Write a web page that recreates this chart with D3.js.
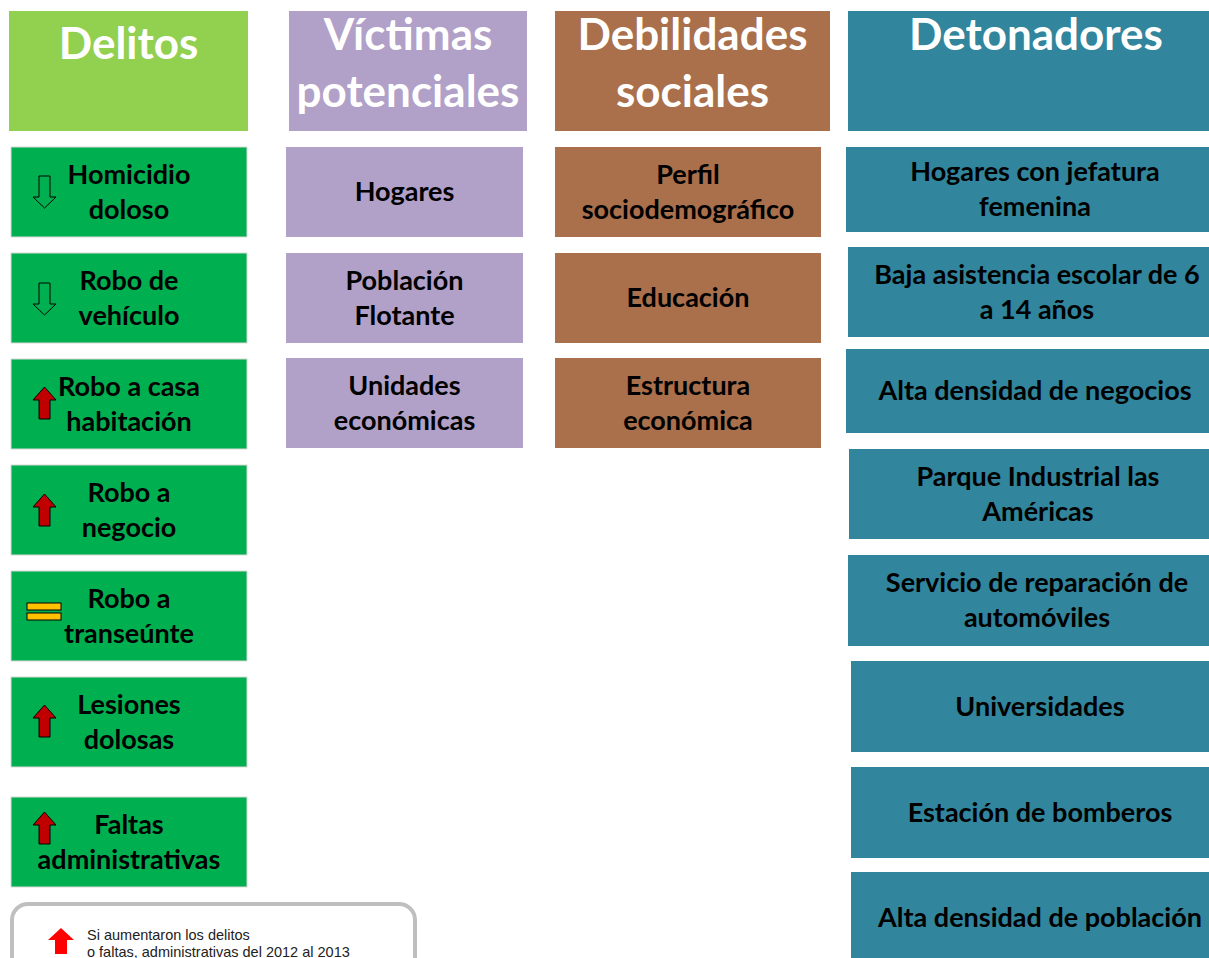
<!DOCTYPE html>
<html><head><meta charset="utf-8">
<script src="https://cdn.jsdelivr.net/npm/d3@7"></script>
<style>body{margin:0;background:#fff;overflow:hidden}svg{display:block}</style>
</head><body>
<script>
// ---- data ----
const headers = [["Delitos"], ["Víctimas", "potenciales"], ["Debilidades", "sociales"], ["Detonadores"]];
const delitos = [["Homicidio", "doloso"], ["Robo de", "vehículo"], ["Robo a casa", "habitación"], ["Robo a", "negocio"], ["Robo a", "transeúnte"], ["Lesiones", "dolosas"], ["Faltas", "administrativas"]];
const tendencias = ["down", "down", "up", "up", "equal", "up", "up"];
const victimas = [["Hogares"], ["Población", "Flotante"], ["Unidades", "económicas"]];
const debilidades = [["Perfil", "sociodemográfico"], ["Educación"], ["Estructura", "económica"]];
const detonadores = [["Hogares con jefatura", "femenina"], ["Baja asistencia escolar de 6", "a 14 años"], ["Alta densidad de negocios"], ["Parque Industrial las", "Américas"], ["Servicio de reparación de", "automóviles"], ["Universidades"], ["Estación de bomberos"], ["Alta densidad de población"]];
const leyenda = ["Si aumentaron los delitos", "o faltas, administrativas del 2012 al 2013"];

// ---- layout ----
const W = 1209, H = 958;
const FONT = "Lato, 'Open Sans', sans-serif";
const svg = d3.select("body").append("svg").attr("width", W).attr("height", H);

const headerColors = ["#92D050", "#B1A0C7", "#AA6F4B", "#31859C"];
const headerBoxes = [{x:9,w:239},{x:289,w:238},{x:555,w:275},{x:848,w:376}];
const headerBaselines = [[59],[50,107],[50,107],[50]];

const hg = svg.append("g");
headers.forEach((lines, i) => {
  const b = headerBoxes[i];
  hg.append("rect").attr("x", b.x).attr("y", 11).attr("width", b.w).attr("height", 120).attr("fill", headerColors[i]);
  lines.forEach((t, j) => {
    hg.append("text").attr("x", b.x + b.w/2).attr("y", headerBaselines[i][j])
      .attr("text-anchor","middle").attr("font-family", FONT).attr("font-weight","bold")
      .attr("font-size", 44).attr("fill","#fff").text(t);
  });
});

function boxes(data, tops, xs, ws, hs, color, stroke) {
  const g = svg.append("g");
  const sel = g.selectAll("g").data(data).join("g");
  sel.append("rect")
    .attr("x", (d,i) => xs[i]).attr("y", (d,i) => tops[i])
    .attr("width", (d,i) => ws[i]).attr("height", (d,i) => hs[i])
    .attr("fill", color).attr("stroke", stroke).attr("stroke-width", stroke === "none" ? 0 : 1);
  sel.each(function(lines, i) {
    const cy = tops[i] + hs[i]/2 + 9;
    const cx = xs[i] + ws[i]/2;
    lines.forEach((t, j) => {
      d3.select(this).append("text")
        .attr("x", cx).attr("y", cy + (j - (lines.length-1)/2) * 35)
        .attr("text-anchor","middle").attr("font-family", FONT).attr("font-weight","bold")
        .attr("font-size", 27).attr("fill","#000").text(t);
    });
  });
  return sel;
}

const dTops = [147,253,359,465,571,677,797];
const iconOff = [29,30,28,29,32,28,15];
const dSel = boxes(delitos, dTops, dTops.map(()=>11), dTops.map(()=>236), dTops.map(()=>90), "#00B050", "#D9D9D9");

// trend icons
const arrowX = 33;
const upPath = "M0,13 L11.5,0 L23,13 L17,13 L17,32 L6,32 L6,13 Z";
const downPath = "M6,0 L17,0 L17,21 L23,21 L11.5,32 L0,21 L6,21 Z";
dSel.each(function(d, i) {
  const g = d3.select(this);
  const t = tendencias[i];
  const y0 = dTops[i] + iconOff[i];
  if (t === "up") {
    g.append("path").attr("d", upPath).attr("transform", `translate(${arrowX},${y0})`)
      .attr("fill","#C00000").attr("stroke","#000").attr("stroke-width",1);
  } else if (t === "down") {
    g.append("path").attr("d", downPath).attr("transform", `translate(${arrowX},${y0})`)
      .attr("fill","#00B050").attr("stroke","#000").attr("stroke-width",1);
  } else {
    [0, 10].forEach(o => g.append("rect").attr("x", 27).attr("y", y0 + o)
      .attr("width", 34).attr("height", 7).attr("fill","#FFC000").attr("stroke","#000").attr("stroke-width",1));
  }
});

const vTops = [147,253,358];
boxes(victimas, vTops, vTops.map(()=>286), vTops.map(()=>237), vTops.map(()=>90), "#B1A0C7", "none");

const sTops = [147,253,358];
boxes(debilidades, sTops, sTops.map(()=>555), sTops.map(()=>266), sTops.map(()=>90), "#AA6F4B", "none");

const tTops = [147,247,349,449,555,661,767,872];
const tHs = [85,90,84,90,91,91,91,92];
const tXs = [846,848,846,849,848,851,851,851];
boxes(detonadores, tTops, tXs, tXs.map(()=>378), tHs, "#31859C", "none");

// legend
const lg = svg.append("g");
lg.append("rect").attr("x", 12).attr("y", 904).attr("width", 403).attr("height", 100).attr("rx", 16)
  .attr("fill","#fff").attr("stroke","#BFBFBF").attr("stroke-width", 4);
lg.append("path").attr("d", "M0,12 L13,0 L26,12 L19,12 L19,26 L7,26 L7,12 Z")
  .attr("transform","translate(48,928)").attr("fill","#FF0000");
leyenda.forEach((t, j) => {
  lg.append("text").attr("x", 87).attr("y", 940 + j*16.5).attr("font-family","'Liberation Sans', Arial, sans-serif")
    .attr("font-size", 14.5).attr("fill","#222").text(t);
});
</script>
</body></html>
